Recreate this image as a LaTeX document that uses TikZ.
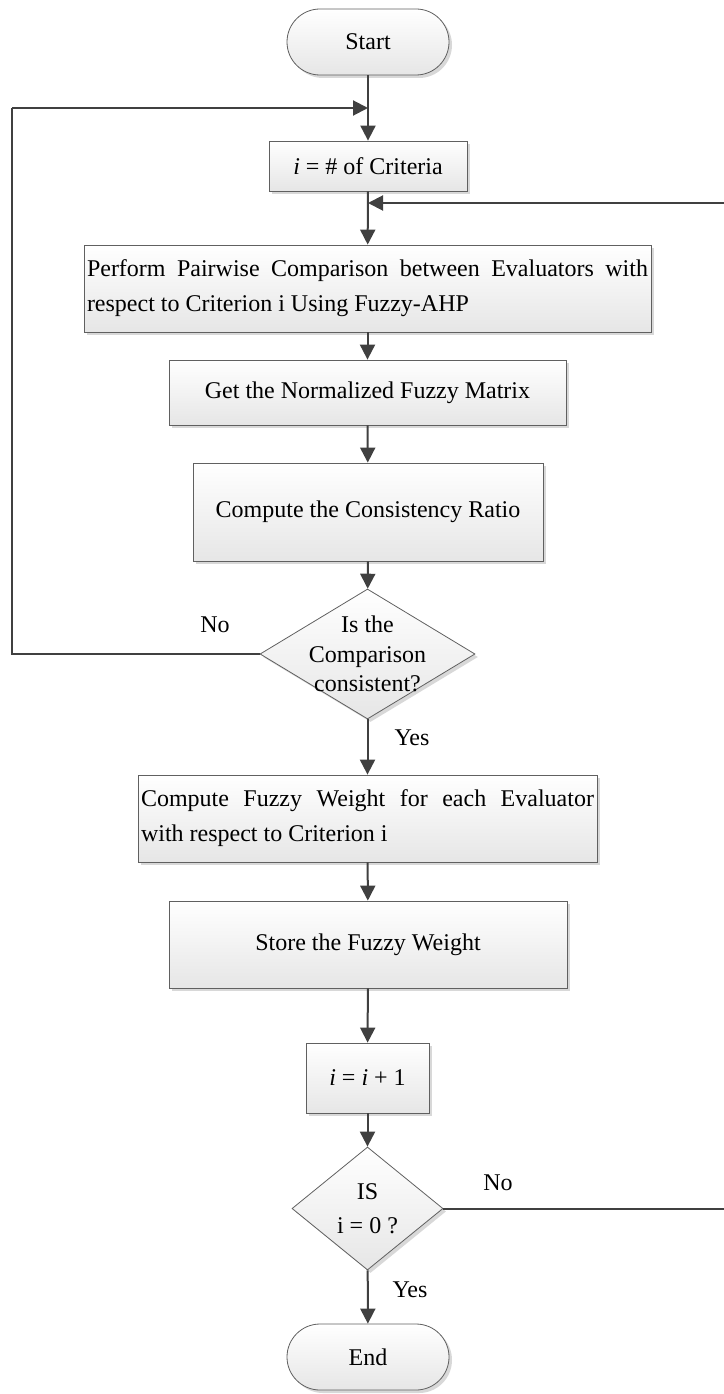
\documentclass[tikz,border=0pt]{standalone}
\usepackage{fontspec}
\setmainfont{Liberation Serif}
\usetikzlibrary{shapes.geometric,arrows.meta,shadows}

\definecolor{boxline}{HTML}{606060}
\definecolor{boxbot}{HTML}{E6E6E6}
\definecolor{shadowgray}{HTML}{D8D8D8}
\definecolor{wire}{HTML}{404040}

\tikzset{
  shapebase/.style={draw=boxline, line width=0.8pt, top color=white, bottom color=boxbot,
    drop shadow={shadow xshift=3pt, shadow yshift=-3pt, fill=shadowgray, opacity=1},
    inner sep=0pt, font=\fontsize{24}{35}\selectfont},
  procbox/.style={shapebase, rectangle, align=center},
  textbox/.style={shapebase, rectangle, align=justify, inner xsep=3pt},
  terminal/.style={shapebase, rectangle, rounded corners=33pt, minimum width=162pt, minimum height=66pt},
  decision/.style={shapebase, diamond},
  dtext/.style={align=center, inner sep=0pt},
  tag/.style={inner sep=0pt, font=\fontsize{24}{29}\selectfont},
  flow/.style={draw=wire, line width=2pt, -{Triangle[length=15pt,width=15pt]}},
  wireline/.style={draw=wire, line width=2pt}
}

\begin{document}
\begin{tikzpicture}[x=1pt,y=-1pt]
\useasboundingbox (0,0) rectangle (723,1394);

% process chain
\node[terminal] (start) at (368,42) {Start};
\node[procbox, minimum width=198pt, minimum height=50pt] (crit) at (368,166) {\textit{i} = \# of Criteria};
\node[textbox, text width=561pt, minimum height=87pt] (pair) at (367.5,288.5)
  {\hyphenpenalty=10000 Perform Pairwise Comparison between Evaluators with\linebreak respect to Criterion i Using Fuzzy-AHP};
\node[procbox, minimum width=397pt, minimum height=65pt] (norm) at (367.5,392.5) {Get the Normalized Fuzzy Matrix};
\node[procbox, minimum width=350pt, minimum height=98pt] (cons) at (368,512) {Compute the Consistency Ratio};
\node[decision, minimum width=215pt, minimum height=130pt] (dec1) at (367.5,654) {};
\node[dtext, font=\fontsize{24}{29.5}\selectfont] (dec1t) at (dec1) {Is the\\Comparison\\consistent?};
\node[textbox, text width=453pt, minimum height=87pt] (fw) at (367.5,818.5)
  {\hyphenpenalty=10000 Compute Fuzzy Weight for each Evaluator\linebreak with respect to Criterion i};
\node[procbox, minimum width=398pt, minimum height=87pt] (store) at (368,944.5) {Store the Fuzzy Weight};
\node[procbox, minimum width=123pt, minimum height=70pt] (inc) at (367.5,1078) {\textit{i} = \textit{i} + 1};
\node[decision, minimum width=151pt, minimum height=123pt] (dec2) at (367.5,1208.5) {};
\node[dtext, font=\fontsize{24}{34}\selectfont] (dec2t) at (dec2) {IS\\i = 0 ?};
\node[terminal] (stop) at (368,1357) {End};

% branch labels
\node[tag] (no1) at (215,625) {No};
\node[tag] (yes1) at (412,738) {Yes};
\node[tag] (no2) at (498,1183) {No};
\node[tag] (yes2) at (410,1290) {Yes};

% junction points of the loops
\coordinate (j1) at (368,108);
\coordinate (j2) at (368,203);
\coordinate (lc) at (12,108);
\coordinate (rc) at (726,203);

% main flow
\draw[flow] (start) -- (crit);
\draw[flow] (crit) -- (pair);
\draw[flow] (pair) -- (norm);
\draw[flow] (norm) -- (cons);
\draw[flow] (cons) -- (dec1);
\draw[flow] (dec1) -- (fw);
\draw[flow] (fw) -- (store);
\draw[flow] (store) -- (inc);
\draw[flow] (inc) -- (dec2);
\draw[flow] (dec2) -- (stop);

% loop back when not consistent
\draw[wireline] (dec1.west) -| (lc);
\draw[flow] (lc) -- (j1);

% loop back to the next criterion
\draw[wireline] (dec2.east) -| (rc);
\draw[flow] (rc) -- (j2);
\end{tikzpicture}
\end{document}
